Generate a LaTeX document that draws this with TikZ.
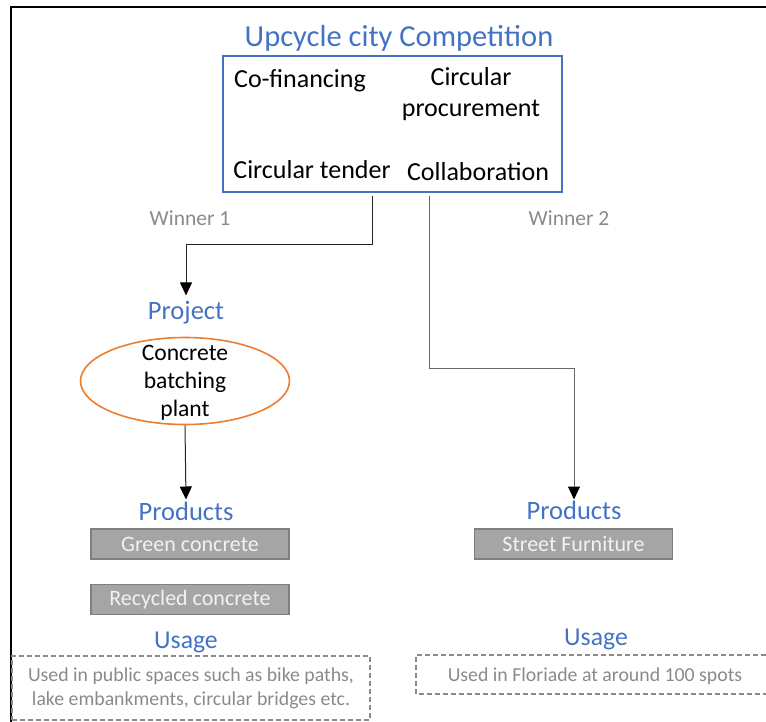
\documentclass[tikz,border=0pt]{standalone}
\usepackage{fontspec}
\setmainfont{Carlito}
\usetikzlibrary{shapes.geometric,arrows.meta}
\definecolor{offblue}{HTML}{4472C4}
\definecolor{offorange}{HTML}{ED7D31}
\definecolor{boxgray}{HTML}{A5A5A5}
\definecolor{edgegray}{HTML}{7F7F7F}
\definecolor{softwhite}{HTML}{F2F2F2}
\definecolor{labelgray}{HTML}{8A8A8A}
\begin{document}
\begin{tikzpicture}[x=1pt,y=-1pt,
  heading/.style={text=offblue,inner sep=1pt,font=\fontsize{26.5}{30}\selectfont},
  idea/.style={text=black,inner sep=1pt,font=\fontsize{26}{31}\selectfont},
  winner/.style={text=labelgray,font=\fontsize{21.5}{24}\selectfont},
  product/.style={fill=boxgray,draw=edgegray,line width=1.2pt,text=softwhite,
    minimum width=198pt,minimum height=30pt,inner sep=0pt,font=\fontsize{22}{24}\selectfont},
  usage/.style={text=labelgray,align=center,font=\fontsize{19.8}{24}\selectfont},
  dashbox/.style={draw=labelgray,line width=1.2pt,dash pattern=on 5pt off 3pt},
  conn/.style={line width=1pt,-{Triangle[width=12pt,length=13pt,color=black]}},
]
\useasboundingbox (0,0) rectangle (766,722);

% outer frame (only its top and left edges fall inside the page)
\draw[line width=2pt] (11,740) -- (11,7) -- (780,7);

% competition block
\node[heading,font=\fontsize{30.5}{34}\selectfont] (title) at (399,38) {Upcycle city Competition};
\node[draw=offblue,line width=1.4pt,minimum width=339pt,minimum height=136pt,inner sep=0pt]
  (comp) at (392.5,124) {};
\node[idea] (cofin) at (300,81) {Co-financing};
\node[idea,align=center] (proc) at (471,94) {Circular\\procurement};
\node[idea] (tender) at (312,170) {Circular tender};
\node[idea] (collab) at (478,172) {Collaboration};

\node[winner] (win1) at (190,218) {Winner 1};
\node[winner] (win2) at (569,218) {Winner 2};

% winner 1 branch
\node[heading] (project) at (186,313) {Project};
\node[ellipse,draw=offorange,line width=1.6pt,minimum width=209pt,minimum height=87pt,inner sep=0pt]
  (plant) at (185,381) {};
\node[align=center,font=\fontsize{23.6}{28}\selectfont] (plantText) at ([yshift=-2pt]plant.center) {Concrete\\batching\\plant};
\node[heading] (prodL) at (186,511) {Products};
\node[product] (green) at (190,544) {Green concrete};
\node[product] (recyc) at (190,599.5) {Recycled concrete};
\node[heading,font=\fontsize{25.7}{30}\selectfont] (useL) at (186,642) {Usage};
\node[dashbox,usage,minimum width=358pt,minimum height=64pt,inner sep=0pt] (useLbox) at (191,688)
  {Used in public spaces such as bike paths,\\lake embankments, circular bridges etc.};

% winner 2 branch
\node[heading] (prodR) at (574,510) {Products};
\node[product] (street) at (573.5,544) {Street Furniture};
\node[heading,font=\fontsize{25.7}{30}\selectfont] (useR) at (596,639) {Usage};
\draw[dashbox] (790,655) -- (416,655) -- (416,694) -- (790,694);
\node[usage] (useRtext) at (595,676) {Used in Floriade at around 100 spots};

% connectors
\coordinate (bend1) at (372,245);
\coordinate (bend2) at (429,368);
\draw[conn,draw=black!85,shorten <=3pt,shorten >=5pt] (comp.south -| bend1) -- (bend1) -| (project.north);
\draw[conn,draw=black!85,shorten >=1pt] (plant.south) -- (prodL.north);
\draw[conn,draw=black!60,shorten <=3pt] (comp.south -| bend2) -- (bend2) -| (prodR.north);
\end{tikzpicture}
\end{document}
